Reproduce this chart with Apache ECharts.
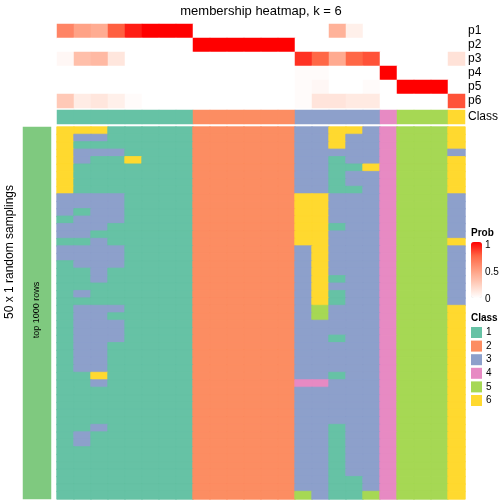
<!DOCTYPE html>
<html><head><meta charset="utf-8">
<script src="https://cdn.jsdelivr.net/npm/echarts@6/dist/echarts.min.js"></script>
<style>html,body{margin:0;padding:0;background:#fff}#c{width:504px;height:504px}</style>
</head><body><div id="c"></div>
<script>
const FONT = '"Liberation Sans", Arial, Helvetica, sans-serif';
const titleText = 'membership heatmap, k = 6';
const rowTitle = '50 x 1 random samplings';
const sliceTitle = 'top 1000 rows';
const columnIds = ['c1','c2','c3','c4','c5','c6','c7','c8','c9','c10','c11','c12','c13','c14','c15','c16','c17','c18','c19','c20','c21','c22','c23','c24'];
const probNames = ['p1','p2','p3','p4','p5','p6'];
const p1 = [0.62,0.48,0.43,0.77,0.93,1,1,1, 0,0,0,0,0,0, 0,0,0.4,0.08,0, 0, 0,0,0, 0];
const p2 = [0,0,0,0,0,0,0,0, 1,1,1,1,1,1, 0,0,0,0,0, 0, 0,0,0, 0];
const p3 = [0.04,0.33,0.36,0.13,0,0,0,0, 0,0,0,0,0,0, 0.88,0.75,0.44,0.75,0.8, 0, 0,0,0, 0.15];
const p4 = [0,0,0,0,0,0,0,0, 0,0,0,0,0,0, 0.02,0.02,0,0,0, 1, 0,0,0, 0];
const p5 = [0,0,0,0,0,0,0,0, 0,0,0,0,0,0, 0.02,0.04,0,0,0.02, 0, 1,1,1, 0];
const p6 = [0.28,0.1,0.13,0.08,0.02,0,0,0, 0,0,0,0,0,0, 0.02,0.14,0.14,0.11,0.11, 0, 0,0,0, 0.8];
const columnClass = [1,1,1,1,1,1,1,1, 2,2,2,2,2,2, 3,3,3,3,3, 4, 5,5,5, 6];
const classLabels = ['1','2','3','4','5','6'];
const classColors = ['#66C2A5','#FC8D62','#8DA0CB','#E78AC3','#A6D854','#FFD92F'];
const probColors = ['#FFFFFF','#FFCFBE','#FF9E81','#FF6746','#FF0000'];
const probTicks = ['1','0.5','0'];
// 50 random samplings x 24 columns (class of each column in each sampling)
const samplings = [
'666111112222223366345556',
'633111112222223363345556',
'611111112222223363345556',
'633311112222223333345553',
'631161112222223313345556',
'611111112222223311645556',
'611111112222223313345556',
'611111112222223313345556',
'611111112222223311345556',
'333311112222226633345553',
'333311112222226633345553',
'313311112222226633345553',
'133311112222226633345553',
'333111112222226613345553',
'331111112222226633345553',
'113111112222226633345556',
'333311112222223633345553',
'333311112222223633345553',
'133311112222223633345553',
'113111112222223633345553',
'113111112222223613345553',
'111111112222223633345553',
'131111112222223613345553',
'111111112222223613345553',
'133311112222223533345556',
'133111112222223533345556',
'133311112222223333345556',
'133311112222223333345556',
'133311112222223313345556',
'133111112222223333345556',
'133111112222223333345556',
'133111112222223333345556',
'133111112222223333345556',
'116111112222223313345556',
'113111112222224433345556',
'111111112222223333345556',
'111111112222223333345556',
'111111112222223333345556',
'111111112222223333345556',
'111111112222223333345556',
'113111112222223313345556',
'131111112222223313345556',
'131111112222223313345556',
'111111112222223313345556',
'111111112222223313345556',
'111111112222223313345556',
'111111112222223313345556',
'111111112222223311345556',
'111111112222223311345556',
'111111112222225311545556'
];
const rowIds = samplings.map((s, i) => 'r' + (i + 1));

const probs = [p1, p2, p3, p4, p5, p6];
const probData = [];
probs.forEach((arr, r) => arr.forEach((v, c) => probData.push([c, r, v])));
const classData = columnClass.map((v, c) => [c, 0, v]);
const mainData = [];
samplings.forEach((s, r) => s.split('').forEach((ch, c) => {
  const v = +ch;
  // thin border in the cell's own class colour hides sub-pixel seams between rows
  mainData.push({value: [c, r, v], itemStyle: {borderColor: classColors[v - 1], borderWidth: 0.8}});
}));

const chart = echarts.init(document.getElementById('c'), null, {renderer: 'canvas'});
const hiddenX = (i) => ({type: 'category', gridIndex: i, data: columnIds, show: false});
const yLab = {fontSize: 12, color: '#000', fontFamily: FONT, margin: 3, interval: 0};
chart.setOption({
  animation: false,
  backgroundColor: '#fff',
  grid: [
    {left: 57, top: 24, width: 408, height: 84, outerBoundsMode: 'none'},
    {left: 57, top: 110, width: 408, height: 14, outerBoundsMode: 'none'},
    {left: 57, top: 127, width: 408, height: 372, outerBoundsMode: 'none'},
    {left: 23, top: 127, width: 28, height: 372, outerBoundsMode: 'none'}
  ],
  xAxis: [hiddenX(0), hiddenX(1), hiddenX(2), {type: 'category', gridIndex: 3, data: ['g'], show: false}],
  yAxis: [
    {type: 'category', gridIndex: 0, data: probNames, inverse: true, position: 'right',
     axisLine: {show: false}, axisTick: {show: false}, splitLine: {show: false}, axisLabel: yLab},
    {type: 'category', gridIndex: 1, data: ['Class'], position: 'right',
     axisLine: {show: false}, axisTick: {show: false}, splitLine: {show: false}, axisLabel: yLab},
    {type: 'category', gridIndex: 2, data: rowIds, inverse: true, show: false},
    {type: 'category', gridIndex: 3, data: ['g'], show: false}
  ],
  visualMap: [
    {type: 'continuous', seriesIndex: 0, min: 0, max: 1, inRange: {color: probColors},
     orient: 'vertical', left: 471, top: 242, itemWidth: 11, itemHeight: 56, padding: 0,
     calculable: false, hoverLink: false, text: null, showLabel: false},
    {type: 'piecewise', seriesIndex: [1, 2], orient: 'vertical', inverse: true, align: 'left',
     left: 471, top: 327,
     itemWidth: 11, itemHeight: 11, itemGap: 2.6, textGap: 4, padding: 0, selectedMode: false,
     itemSymbol: 'rect', hoverLink: false,
     textStyle: {fontSize: 10, color: '#000', fontFamily: FONT},
     pieces: classLabels.map((l, i) => ({value: i + 1, label: l, color: classColors[i]}))},
    {type: 'piecewise', seriesIndex: 3, show: false, pieces: [{value: 1, color: '#7FC97F'}]}
  ],
  series: [
    {type: 'heatmap', xAxisIndex: 0, yAxisIndex: 0, data: probData, emphasis: {disabled: true}},
    {type: 'heatmap', xAxisIndex: 1, yAxisIndex: 1, data: classData, emphasis: {disabled: true}},
    {type: 'heatmap', xAxisIndex: 2, yAxisIndex: 2, data: mainData, emphasis: {disabled: true}},
    {type: 'heatmap', xAxisIndex: 3, yAxisIndex: 3, data: [[0, 0, 1]], emphasis: {disabled: true}}
  ],
  graphic: [
    {type: 'text', z: 100, x: 261, y: 11, style: {text: titleText, font: '13px ' + FONT, fill: '#000', align: 'center', verticalAlign: 'middle'}},
    {type: 'text', z: 100, x: 10, y: 252, rotation: Math.PI / 2, style: {text: rowTitle, font: '12px ' + FONT, fill: '#000', align: 'center', verticalAlign: 'middle'}},
    {type: 'text', z: 100, x: 37, y: 310, rotation: Math.PI / 2, style: {text: sliceTitle, font: '9px ' + FONT, fill: '#000', align: 'center', verticalAlign: 'middle'}},
    {type: 'text', z: 100, x: 471, y: 233, style: {text: 'Prob', font: 'bold 10px ' + FONT, fill: '#000', align: 'left', verticalAlign: 'middle'}},
    {type: 'text', z: 100, x: 471, y: 318, style: {text: 'Class', font: 'bold 10px ' + FONT, fill: '#000', align: 'left', verticalAlign: 'middle'}},
    {type: 'text', z: 100, x: 485, y: 245, style: {text: probTicks[0], font: '10px ' + FONT, fill: '#000', align: 'left', verticalAlign: 'middle'}},
    {type: 'text', z: 100, x: 485, y: 272, style: {text: probTicks[1], font: '10px ' + FONT, fill: '#000', align: 'left', verticalAlign: 'middle'}},
    {type: 'text', z: 100, x: 485, y: 299, style: {text: probTicks[2], font: '10px ' + FONT, fill: '#000', align: 'left', verticalAlign: 'middle'}}
  ]
});
</script>
</body></html>
